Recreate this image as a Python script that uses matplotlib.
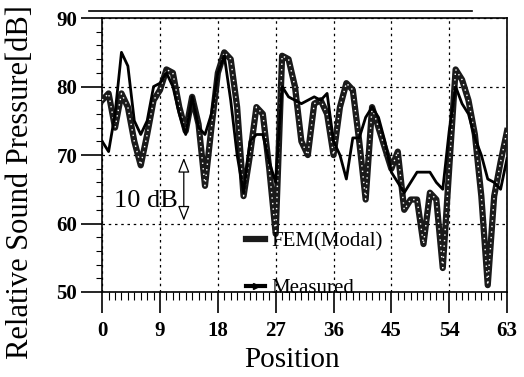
import matplotlib.pyplot as plt
from matplotlib.lines import Line2D

positions = list(range(64))

# FEM (Modal) - thick dotted line
fem = [78, 79, 74, 79, 77, 72, 68.5, 73, 78, 79.5,
       82.5, 82, 77, 73.5, 78.5, 74.5, 65.5, 74, 82, 85,
       84, 77, 64, 70, 77, 76, 68, 58.5, 84.5, 84,
       80, 72, 70, 77.5, 78, 76, 70, 77, 80.5, 79.5,
       72, 63.5, 77, 74, 71, 68, 70.5, 62, 63.5, 63.5,
       57, 64.5, 63.5, 53.5, 68, 82.5, 81, 78, 73, 64,
       51, 64, 69, 73.5]

# Measured - solid line
measured = [72, 70.5, 76, 85, 83, 75, 73, 75, 80, 80.5,
            82, 80, 76, 73, 78.5, 74, 73, 76, 82, 84.5,
            78, 70, 64.5, 72, 73, 73, 69, 66, 80, 78.5,
            78, 77.5, 78, 78.5, 78, 79, 72, 70, 66.5, 72.5,
            72.5, 75.5, 77, 75.5, 72, 67.5, 66, 64.5, 66, 67.5,
            67.5, 67.5, 66, 65, 73.5, 80, 77.5, 76, 72.5, 70,
            66.5, 66, 65, 69.5]

xticks = [0, 9, 18, 27, 36, 45, 54, 63]
yticks = [50, 60, 70, 80, 90]

plt.rcParams['font.family'] = ['Liberation Serif', 'DejaVu Serif']

fig = plt.figure(figsize=(5.24, 3.77), dpi=100)
ax = fig.add_axes([0.195, 0.2255, 0.7726, 0.7265])

# FEM: thick black with white speckle to look like the scanned dotted stroke
ax.plot(positions, fem, color='#1a1a1a', lw=4.5, solid_joinstyle='round', zorder=3)
ax.plot(positions, fem, color='white', lw=1.0, linestyle=(0, (1, 3)), zorder=4)
ax.plot(positions, measured, color='black', lw=2.0, zorder=5)

ax.set_xlim(0, 63)
ax.set_ylim(50, 90)
ax.set_xticks(xticks)
ax.set_yticks(yticks)
ax.set_xticks(range(64), minor=True)
ax.set_yticks(range(50, 91, 2), minor=True)
ax.tick_params(axis='both', which='major', direction='out', length=15, width=1.2,
               labelsize=15, pad=3)
ax.tick_params(axis='x', which='major', pad=6)
ax.tick_params(axis='x', which='minor', direction='out', length=6, width=0.8)
ax.tick_params(axis='y', which='minor', direction='out', length=4, width=0.8)
for lab in ax.get_xticklabels() + ax.get_yticklabels():
    lab.set_fontweight('bold')

ax.grid(True, which='major', linestyle=(0, (2, 3)), color='black', linewidth=0.9)
for s in ax.spines.values():
    s.set_linewidth(1.2)

ax.set_xlabel("Position", fontsize=21)
ax.set_ylabel("Relative Sound Pressure[dB]", fontsize=22)
ax.xaxis.set_label_coords(0.47, -0.2)
ax.yaxis.set_label_coords(-0.165, 0.4)

# 10 dB scale marker
ax.annotate('', xy=(12.7, 60), xytext=(12.7, 70),
            arrowprops=dict(arrowstyle='<|-|>,head_length=0.9,head_width=0.35',
                            facecolor='white', edgecolor='black', lw=0.9))
ax.text(1.8, 63.3, "10 dB", fontsize=19, ha='left', va='center')

# legend
h_fem = Line2D([], [], color='#1a1a1a', lw=4.5)
h_meas = Line2D([], [], color='black', lw=3, marker='>', markevery=[1], markersize=5)
leg = ax.legend([h_fem, h_meas], ["FEM(Modal)", "Measured"], loc='lower left',
                bbox_to_anchor=(0.31, -0.09), frameon=False, fontsize=15,
                handlelength=0.9, handletextpad=0.3, labelspacing=1.3)

fig.add_artist(Line2D([0.17, 0.9], [0.972, 0.972], color='black', lw=1.2))

fig.savefig("out.png", dpi=100)
